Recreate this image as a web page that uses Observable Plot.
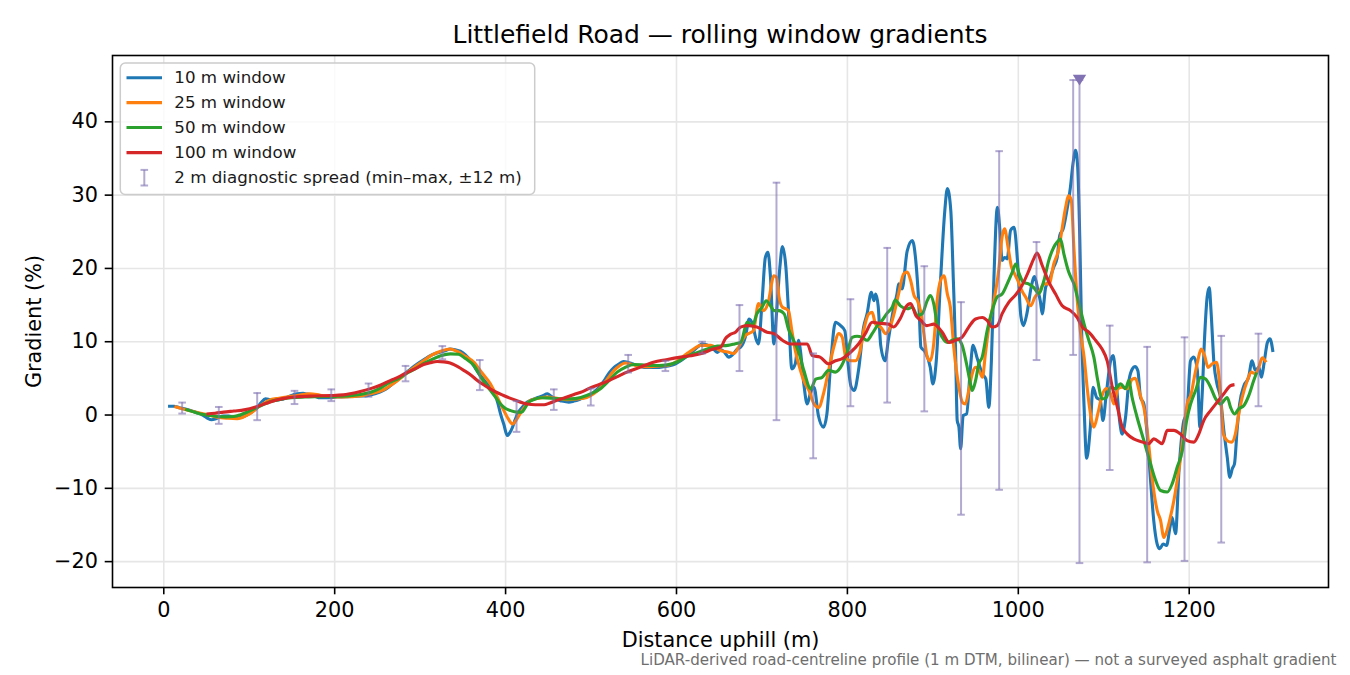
<!DOCTYPE html>
<html>
<head>
<meta charset="utf-8">
<script src="https://cdn.jsdelivr.net/npm/d3@7"></script>
<script src="https://cdn.jsdelivr.net/npm/@observablehq/plot@0.6"></script>
<style>
  body { margin: 0; background: #fff; }
  #wrap { position: relative; width: 1350px; height: 675px; font-family: "DejaVu Sans", sans-serif; }
  #overlay { position: absolute; left: 0; top: 0; pointer-events: none; }
</style>
</head>
<body>
<div id="wrap"></div>
<script>
// ---------- data (distance m, gradient %) ----------
const w10 = [[5,1.2],[12,1.2],[18,1.0],[24,0.85],[32,0.6],[38,0.35],[43,0.15],[48,-0.2],[52,-0.5],[56,-0.65],[60,-0.55],[64,-0.35],[70,-0.15],[76,-0.15],[81,-0.3],[86,-0.4],[91,-0.3],[97,0.0],[104,0.5],[109,0.95],[114,1.7],[119,2.2],[124,2.1],[129,2.0],[135,2.1],[140,2.2],[148,2.6],[156,2.9],[163,2.95],[168,2.85],[176,2.6],[183,2.35],[192,2.35],[203,2.45],[212,2.5],[220,2.55],[230,2.6],[238,2.65],[247,2.9],[257,3.35],[263,3.8],[269,4.35],[276,5.0],[283,5.7],[290,6.4],[297,7.0],[305,7.6],[312,8.1],[318,8.4],[324,8.6],[330,8.8],[335,9.0],[341,8.9],[347,8.7],[353,8.2],[359,7.4],[364,6.5],[369,5.6],[374,4.9],[378,4.3],[383,3.6],[388,2.7],[391,1.6],[394,0.2],[398,-1.3],[402,-2.8],[405,-2.4],[408,-1.7],[411,-0.7],[414,0.2],[419,1.0],[425,1.75],[431,2.1],[437,2.35],[443,2.6],[449,2.9],[453,2.6],[458,2.2],[466,1.9],[474,1.75],[480,1.9],[488,2.2],[495,2.5],[501,2.9],[506,3.4],[511,4.0],[516,4.8],[521,5.7],[527,6.5],[533,7.0],[538,7.3],[543,7.2],[548,7.0],[555,6.7],[562,6.5],[570,6.5],[577,6.5],[585,6.6],[593,6.75],[599,7.0],[605,7.4],[612,8.0],[620,8.8],[625,9.3],[630,9.7],[635,9.6],[640,9.25],[644,8.9],[648,8.55],[652,8.9],[656,8.6],[661,7.9],[667,8.4],[671,9.0],[675,9.25],[681,10.85],[685,13.1],[689,12.4],[693,10.4],[696,9.7],[700,15.2],[704,21.5],[707,22.2],[710,18.8],[714,9.7],[717,13.8],[721,20.2],[724,23.0],[728,20.2],[731,14.3],[735,6.3],[739,7.0],[743,10.2],[745,8.8],[749,4.25],[753,1.5],[757,3.1],[761,3.8],[766,-0.05],[772,-1.65],[776,0.15],[781,7.9],[786,12.65],[792,12.2],[797,11.5],[800,7.9],[804,4.0],[808,3.35],[813,6.1],[819,12.0],[823,13.8],[828,16.75],[831,15.6],[833,16.5],[836,14.9],[839,9.5],[844,7.4],[848,10.3],[854,14.5],[858,16.5],[860,17.9],[864,17.2],[870,22.4],[876,23.8],[880,21.1],[884,14.25],[886,9.25],[891,8.6],[897,6.5],[900,4.25],[904,7.4],[909,18.35],[914,27.9],[917,30.9],[921,27.9],[924,18.35],[926.5,9.25],[928.5,-0.75],[930.5,-1.65],[932.5,-4.6],[935.5,-0.05],[939.5,0.15],[944,6.5],[947,9.5],[952,7.7],[958,5.6],[962,4.9],[965.5,1.05],[968.5,7.4],[971.5,18.8],[975.5,28.35],[978.5,25.2],[981,21.1],[984,21.5],[987,21.3],[991,25.2],[995,25.6],[999,21.1],[1003,13.5],[1006,12.2],[1010,13.8],[1015,17.4],[1019,18.9],[1023,17.0],[1026,15.4],[1028,13.8],[1032,17.4],[1036,18.35],[1041.5,20.2],[1045.5,21.5],[1048.5,24.5],[1052.5,25.4],[1056.5,27.7],[1061,31.1],[1064,34.3],[1067,36.1],[1069.5,33.8],[1072,23.8],[1074,12.0],[1077,1.05],[1080,-5.9],[1084,-2.1],[1087.5,3.8],[1091.5,2.4],[1096,2.0],[1099,-0.75],[1103,2.9],[1108,7.4],[1111,8.1],[1115,3.8],[1119,-1.2],[1121.5,-2.6],[1125.5,-0.3],[1129.5,4.7],[1133.5,6.3],[1136.5,6.6],[1140,6.0],[1143,2.4],[1147,1.5],[1151,-3.0],[1154.5,-8.5],[1158.5,-14.4],[1162.5,-17.6],[1165.5,-18.25],[1169.5,-17.6],[1173.5,-17.8],[1177.5,-15.3],[1180,-14.0],[1184,-16.2],[1188,-7.6],[1193,-1.2],[1197.5,0.6],[1201.5,7.4],[1205.5,7.9],[1209.5,6.1],[1212.5,-1.65],[1215,2.4],[1218,10.6],[1221,16.1],[1223.5,17.4],[1225.5,14.25],[1229,7.0],[1232.5,4.25],[1236.5,2.4],[1240.5,-2.1],[1244.5,-5.75],[1247.5,-8.5],[1250.5,-7.3],[1253,-6.65],[1256,-2.1],[1259,1.5],[1264,4.0],[1269.5,5.15],[1273.5,7.4],[1277.5,6.1],[1281.5,6.5],[1284.5,5.15],[1287.5,7.0],[1291.5,9.9],[1294.5,10.4],[1298,8.6]];

const w25 = [[12.5,1.15],[21.5,0.85],[32,0.55],[43,0.25],[53,0.0],[62.5,-0.3],[75,-0.45],[86,-0.5],[97.6,0.0],[104,0.45],[109,0.95],[116,1.5],[123,2.0],[135,2.3],[146,2.5],[156,2.65],[171,2.9],[183,2.7],[195,2.5],[207,2.45],[218,2.5],[230,2.6],[242,2.9],[257,3.45],[270,4.4],[283,5.6],[294,6.6],[304,7.4],[314,8.2],[324,8.7],[335,9.0],[343,8.7],[353,8.0],[363,7.2],[372,5.8],[382,4.3],[390,2.5],[398,0.6],[403,-0.5],[408,-1.2],[413,-0.6],[417,0.2],[423,1.2],[429,2.0],[439,2.3],[449,2.45],[460,2.3],[472,2.1],[484,2.2],[495,2.4],[503,2.9],[511,3.7],[519,4.9],[527,6.1],[533,6.7],[540,7.1],[548,6.9],[558,6.6],[570,6.6],[580,6.7],[589,6.75],[600,7.3],[612,8.35],[620,9.0],[628,9.5],[640,9.5],[651,8.8],[660,8.6],[667,8.4],[671,8.9],[675,9.75],[680,10.8],[684,11.1],[690,11.5],[696,15.2],[702,14.25],[707,15.2],[714,19.0],[717,18.8],[720,16.1],[724,14.7],[728,14.5],[731,14.25],[735,11.5],[739,8.8],[745,6.1],[749,4.7],[755,3.35],[761,1.5],[766.5,1.05],[772,2.9],[778,6.1],[784,9.25],[790,11.1],[794,10.6],[798,7.9],[804,7.4],[809.5,7.4],[814.5,8.6],[819,11.5],[825,13.8],[829,14.0],[833,12.4],[839,12.0],[845,11.1],[850,12.0],[855,14.0],[860,16.6],[866,19.3],[870,19.5],[874,18.35],[878,16.3],[882,15.6],[885.5,14.25],[889.5,11.1],[893.5,7.9],[897,7.4],[901,9.7],[905,15.6],[909,18.35],[913,19.0],[917,16.5],[920.5,14.7],[924.5,9.25],[930.5,3.8],[934.5,1.75],[938,1.5],[942,3.35],[946,5.6],[950,6.5],[954,6.1],[958,5.15],[961.5,8.35],[965.5,12.0],[971.5,15.6],[977,19.7],[981,24.3],[984,25.4],[988,22.9],[992,20.2],[995.5,19.3],[999.5,18.35],[1004,17.0],[1009,16.0],[1014.5,14.9],[1019.5,16.1],[1024.5,16.8],[1030,17.9],[1036,17.9],[1041.5,20.6],[1047.5,22.7],[1051.5,25.6],[1055,28.1],[1059,29.9],[1062,29.3],[1065,22.9],[1069,15.6],[1073,11.1],[1077,7.9],[1080.5,3.8],[1084.5,0.15],[1088.5,-1.65],[1093,0.15],[1098,2.65],[1103,3.6],[1108,2.9],[1112,1.5],[1116.5,3.6],[1121.5,3.8],[1127.5,3.6],[1133.5,4.9],[1137,5.0],[1142,3.0],[1149,-0.3],[1152.5,-3.9],[1156.5,-8.5],[1162.5,-13.0],[1166.5,-14.4],[1170.3,-16.7],[1174,-15.75],[1178,-13.9],[1182,-11.7],[1186,-8.9],[1190,-5.75],[1193.7,-2.1],[1197.6,1.5],[1202.3,2.9],[1206,5.15],[1210,7.4],[1214,9.0],[1218,8.1],[1222,6.5],[1227,7.0],[1232,7.2],[1236,3.8],[1240,-2.6],[1244.5,-3.5],[1249.5,-3.7],[1254,-2.6],[1258,0.15],[1262,2.4],[1268,4.7],[1272.5,5.85],[1277.5,5.6],[1281.5,6.5],[1285.5,7.8],[1290,7.2]];

const w50 = [[25,0.8],[33,0.5],[43,0.15],[53,-0.05],[62.5,-0.2],[72,-0.25],[82,-0.2],[90,0.05],[97.6,0.4],[109,1.0],[117,1.45],[125,1.85],[137,2.15],[149,2.35],[165,2.45],[180,2.5],[200,2.55],[218.5,2.65],[230,2.8],[242,3.1],[254,3.7],[265,4.5],[275,5.0],[283,5.6],[294,6.3],[304,7.0],[314,7.6],[324,8.1],[335.5,8.35],[345,8.3],[353,7.7],[363,6.75],[372,5.0],[382,3.4],[389,2.3],[394,1.5],[400,0.9],[406,0.6],[413,0.4],[419,0.4],[423,1.0],[427,1.75],[434,2.15],[441,2.35],[453,2.3],[465,2.2],[476,2.2],[488,2.4],[500,2.9],[511,3.6],[521,4.7],[530.6,5.85],[540,6.5],[550,6.9],[565,6.8],[580,6.75],[595,7.0],[605,7.5],[612,8.0],[624,8.5],[636,9.0],[648,9.4],[660,9.5],[668,9.7],[675,9.9],[683,12.65],[689,12.2],[694,13.8],[700,14.7],[705,15.6],[710,14.9],[714,14.25],[720,14.25],[726,13.8],[731,11.75],[737,10.2],[743,8.6],[749,6.1],[757,3.6],[763,4.9],[770.5,5.15],[778,6.1],[786,5.85],[792,6.5],[800,8.6],[805.6,10.6],[811.4,10.75],[817,10.6],[823,10.2],[829,11.1],[835,12.2],[840.6,12.9],[846.5,13.9],[852.4,14.7],[856,15.7],[862,14.9],[870,14.5],[876,14.7],[881.6,13.6],[887.5,13.8],[893.4,15.6],[897,16.3],[901,15.2],[905,12.4],[911,10.6],[917,9.9],[922.6,10.2],[928.4,10.4],[934.3,9.5],[939.4,7.0],[943.3,4.7],[946,3.35],[950,4.7],[953.8,7.0],[957.7,7.9],[963.5,11.5],[969.4,14.25],[975.3,16.1],[981,16.5],[987,17.9],[993,19.5],[997,20.6],[1001,19.3],[1006,18.1],[1012,17.9],[1018,17.4],[1024,16.6],[1030,18.35],[1035.7,21.1],[1041.5,22.9],[1045.5,23.6],[1049.4,24.0],[1053.3,22.0],[1059,19.5],[1065,17.9],[1071,15.2],[1077,12.4],[1082.5,10.2],[1088.4,7.9],[1093,4.7],[1098,2.2],[1103,2.4],[1108,3.8],[1113.7,3.6],[1119.6,4.25],[1125.5,3.6],[1129.3,4.7],[1133,2.5],[1139,-0.3],[1147,-3.5],[1154.7,-6.65],[1160.6,-8.9],[1166.5,-10.3],[1174.3,-10.5],[1180,-9.4],[1186,-7.1],[1192,-4.85],[1197,-0.75],[1201.6,1.5],[1207.5,3.35],[1213.3,5.15],[1219.2,4.9],[1225,3.8],[1231,2.2],[1236.7,1.5],[1244.5,2.4],[1248.4,1.05],[1253,0.15],[1258,0.85],[1264,1.3],[1269.7,2.65],[1275.5,4.7],[1279,5.8]];

const w100 = [[50,0.15],[60,0.25],[70,0.4],[82,0.55],[94,0.7],[109,1.15],[120,1.6],[133,2.1],[145,2.35],[156,2.5],[175,2.6],[195,2.65],[210,2.75],[218,2.9],[230,3.2],[242,3.6],[254,4.1],[265,4.7],[275,5.2],[283,5.7],[294,6.3],[304,6.9],[312,7.15],[320,7.3],[328,7.25],[335,7.1],[339,6.9],[351,6.1],[360,5.4],[367,4.7],[376,4.0],[386,3.3],[397,2.7],[410,2.1],[425,1.5],[435,1.4],[445,1.4],[452,1.65],[460,2.0],[470,2.4],[480,2.8],[490,3.2],[499,3.7],[509,4.15],[519,4.6],[530,5.2],[542,5.85],[557,6.5],[573,7.2],[588,7.55],[605,7.9],[617,8.1],[628,8.35],[643,9.0],[652,9.3],[657,10.4],[663,11.0],[669,11.3],[675,12.0],[683,12.2],[694,12.0],[706,11.3],[714,11.1],[724,10.2],[733,9.7],[743,9.7],[753,9.7],[759,8.1],[768,7.9],[778,7.0],[786,7.4],[794,7.7],[804,8.6],[813,9.7],[821,11.1],[829,12.65],[839,12.5],[848,12.4],[854,12.0],[862,13.2],[868,14.7],[874,15.2],[880,13.6],[886,12.9],[893,12.2],[901,12.4],[911,11.3],[919,9.9],[926.5,10.2],[934,10.6],[942,12.0],[950,13.1],[958,13.3],[963.5,12.9],[969.4,12.0],[975.3,12.2],[981,13.8],[989,15.4],[997,16.4],[1004,17.6],[1012,19.6],[1018,21.3],[1022,22.1],[1028,20.4],[1036,18.1],[1043.6,16.5],[1051.4,14.9],[1061,14.25],[1069,13.3],[1075,12.0],[1082.5,11.3],[1090.4,10.2],[1098,9.0],[1104,7.4],[1110,3.8],[1116,1.05],[1121.6,-1.65],[1127.5,-2.6],[1135,-3.25],[1143,-3.6],[1152.6,-3.9],[1158.6,-3.25],[1168.4,-3.9],[1174.3,-2.1],[1182,-2.1],[1189.8,-2.6],[1197.6,-3.5],[1205.4,-3.7],[1211.2,-2.6],[1217,-0.75],[1225,0.6],[1232.7,1.75],[1240.5,2.9],[1248.4,4.0],[1253,4.15]];

// 2 m diagnostic spread: position, min, max
const spreadX  = [21.5, 64.4, 109.3, 153, 196, 239.6, 282.9, 326, 369.8, 412.8, 456.4, 499.7, 543.5, 587, 630, 673.7, 717, 760, 803.6, 846.6, 890, 933, 977.6, 1021.3, 1064.2, 1071.6, 1107, 1150.8, 1194.5, 1237.5, 1281];
const spreadLo = [0.2, -1.2, -0.7, 1.5, 1.9, 2.5, 4.6, 7.6, 3.4, -2.3, 0.7, 1.3, 5.8, 6.0, 8.4, 6.0, -0.7, -5.9, 1.2, 1.7, 0.5, -13.6, -10.2, 7.5, 8.2, -20.2, -7.5, -20.1, -19.9, -17.4, 1.2];
const spreadHi = [1.7, 1.1, 3.0, 3.3, 3.5, 4.3, 6.7, 9.4, 7.5, 1.9, 3.5, 3.6, 8.2, 7.4, 10.0, 15.0, 31.7, 8.4, 15.8, 22.8, 20.3, 15.4, 36.0, 23.6, 45.7, 45.7, 12.2, 9.3, 10.6, 10.8, 11.1];
// clipped maximum marker
const flagX = [1071.6];
const flagY = [45.7];

const xTicks = [0, 200, 400, 600, 800, 1000, 1200];
const yTicks = [-20, -10, 0, 10, 20, 30, 40];

const seriesNames = ["10 m window", "25 m window", "50 m window", "100 m window"];
const seriesColors = ["#1f77b4", "#ff7f0e", "#2ca02c", "#d62728"];
const seriesData = [w10, w25, w50, w100];

const titleText = "Littlefield Road \u2014 rolling window gradients";
const spreadLabel = "2 m diagnostic spread (min\u2013max, \u00b112 m)";
const noteText = "LiDAR-derived road-centreline profile (1 m DTM, bilinear) \u2014 not a surveyed asphalt gradient";

// ---------- build ----------
const purple = "#8172b3";
const spread = spreadX.map((m, i) => ({m, lo: spreadLo[i], hi: spreadHi[i]}));
const flag = flagX.map((m, i) => ({m, v: flagY[i]}));
const capSymbol = { draw(ctx) { ctx.moveTo(-3.8, 0); ctx.lineTo(3.8, 0); } };
const triDown = { draw(ctx) { ctx.moveTo(-6.7, -5.4); ctx.lineTo(6.7, -5.4); ctx.lineTo(0, 5.4); ctx.closePath(); } };
const fmtY = d => d < 0 ? "\u2212" + Math.abs(d) : String(d);

const lineMarks = seriesData.map((data, i) =>
  Plot.line(data, {x: d => d[0], y: d => d[1], stroke: seriesColors[i], strokeWidth: 3.1,
    curve: "monotone-x", strokeLinejoin: "round", strokeLinecap: "butt"}));

const chart = Plot.plot({
  width: 1350, height: 675,
  marginLeft: 112, marginRight: 22, marginTop: 55, marginBottom: 88,
  style: {fontFamily: "'DejaVu Sans', sans-serif", fontSize: "20.8px", color: "black", background: "white", overflow: "visible"},
  x: {domain: [-60, 1363]},
  y: {domain: [-23.53, 49.05]},
  marks: [
    Plot.gridX(xTicks, {stroke: "#e6e6e6", strokeOpacity: 1, strokeWidth: 1.6}),
    Plot.gridY(yTicks, {stroke: "#e6e6e6", strokeOpacity: 1, strokeWidth: 1.6}),
    ...lineMarks,
    Plot.ruleX(spread, {x: "m", y1: "lo", y2: "hi", stroke: purple, strokeOpacity: 0.6, strokeWidth: 2}),
    Plot.dot(spread, {x: "m", y: "lo", symbol: capSymbol, stroke: purple, strokeOpacity: 0.6, strokeWidth: 2, fill: "none"}),
    Plot.dot(spread, {x: "m", y: "hi", symbol: capSymbol, stroke: purple, strokeOpacity: 0.6, strokeWidth: 2, fill: "none"}),
    Plot.dot(flag, {x: "m", y: "v", symbol: triDown, fill: purple, stroke: "none"}),
    Plot.axisX({ticks: xTicks, tickSize: 7.3, tickPadding: 7.3, tickFormat: d => String(d), strokeWidth: 1.6,
      label: "Distance uphill (m)", labelAnchor: "center", labelArrow: "none", labelOffset: 59.5}),
    Plot.axisY({ticks: yTicks, tickSize: 7.3, tickPadding: 7.3, tickFormat: fmtY, strokeWidth: 1.6,
      label: "Gradient (%)", labelAnchor: "center", labelArrow: "none", labelOffset: 86.4}),
    Plot.frame({stroke: "black", strokeWidth: 1.6})
  ]
});

const wrap = document.getElementById("wrap");
wrap.appendChild(chart);

// ---------- overlay: title, legend, note ----------
const NS = "http://www.w3.org/2000/svg";
const ov = document.createElementNS(NS, "svg");
ov.setAttribute("id", "overlay");
ov.setAttribute("width", 1350);
ov.setAttribute("height", 675);
ov.setAttribute("font-family", "'DejaVu Sans', sans-serif");
function el(tag, attrs, text) {
  const e = document.createElementNS(NS, tag);
  for (const k in attrs) e.setAttribute(k, attrs[k]);
  if (text != null) e.textContent = text;
  ov.appendChild(e);
  return e;
}
el("text", {x: 720, y: 42.5, "text-anchor": "middle", "font-size": 25, fill: "black"}, titleText);
// legend
el("rect", {x: 120.3, y: 63, width: 414.4, height: 131.5, rx: 5, fill: "white", "fill-opacity": 0.8, stroke: "#cccccc", "stroke-width": 1.5});
const rowY = [77.7, 102.6, 127.5, 152.6];
seriesNames.forEach((name, i) => {
  el("line", {x1: 126.5, x2: 162, y1: rowY[i], y2: rowY[i], stroke: seriesColors[i], "stroke-width": 3.1});
  el("text", {x: 174.3, y: rowY[i] + 5.2, "font-size": 16.7, fill: "#1a1a1a"}, name);
});
const ey = 177.7;
el("line", {x1: 144.3, x2: 144.3, y1: ey - 7.8, y2: ey + 7.8, stroke: purple, "stroke-opacity": 0.6, "stroke-width": 2});
el("line", {x1: 140.5, x2: 148.1, y1: ey - 7.8, y2: ey - 7.8, stroke: purple, "stroke-opacity": 0.6, "stroke-width": 2});
el("line", {x1: 140.5, x2: 148.1, y1: ey + 7.8, y2: ey + 7.8, stroke: purple, "stroke-opacity": 0.6, "stroke-width": 2});
el("text", {x: 174.3, y: ey + 5.2, "font-size": 16.7, fill: "#1a1a1a"}, spreadLabel);
// note
el("text", {x: 1336.5, y: 665, "text-anchor": "end", "font-size": 15.1, fill: "#6e6e6e"}, noteText);
wrap.appendChild(ov);
</script>
</body>
</html>
